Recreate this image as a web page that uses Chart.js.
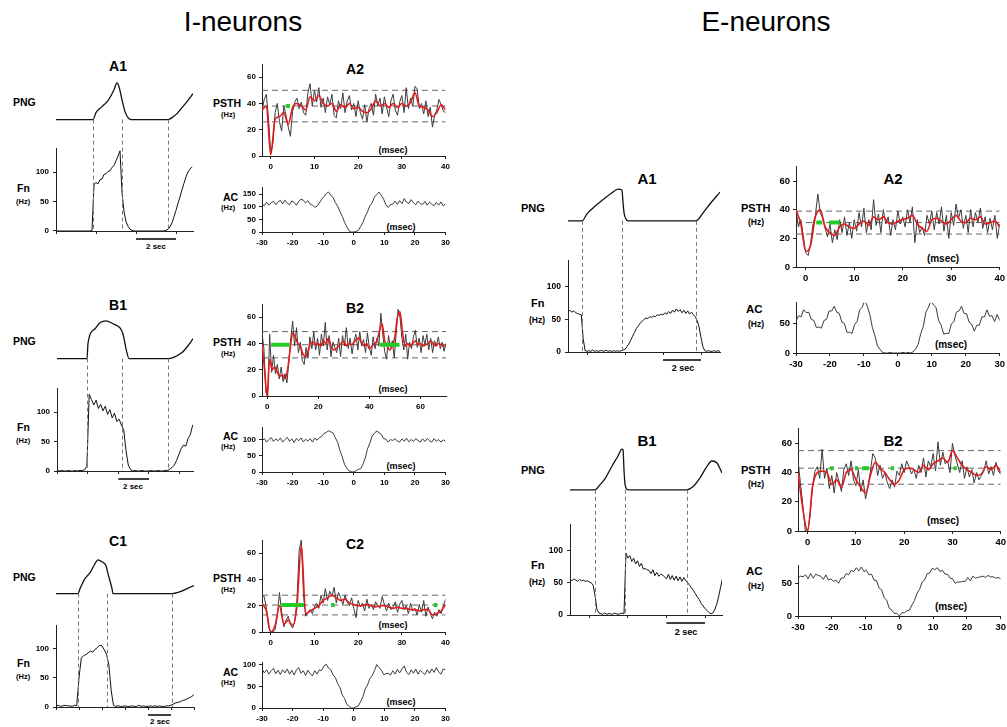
<!DOCTYPE html>
<html>
<head>
<meta charset="utf-8">
<title>I-neurons / E-neurons</title>
<script src="https://cdn.jsdelivr.net/npm/chart.js"></script>
<style>
html, body { margin: 0; padding: 0; background: #fff; overflow: hidden; }
#fig { position: relative; width: 1007px; height: 727px; font-family: "Liberation Sans", Arial, sans-serif; color: #000; }
#fig canvas { position: absolute; }
.t { position: absolute; white-space: nowrap; line-height: 1; }
</style>
</head>
<body>
<div id="fig"></div>
<script>
// ---------- tick values ----------
const fnTicks = [0, 50, 100];
const psthTicks = [0, 20, 40, 60];
const ms40Ticks = [0, 10, 20, 30, 40];
const ms70Ticks = [0, 20, 40, 60];
const acXTicks = [-30, -20, -10, 0, 10, 20, 30];

// ---------- I-neurons, A ----------
const iaPngT = [0, 1.85, 2.0, 2.3, 2.6, 2.9, 3.05, 3.15, 3.3, 3.45, 3.6, 3.75, 5.6, 5.8, 6.05, 6.3, 6.55, 6.85];
const iaPngV = [0, 0, 7, 13, 19, 30, 37, 33, 20, 8, 2, 0, 0, 2, 6, 12, 18, 26];
// Fn, every 0.1 s from 0
const iaFn = [0, 0, 0, 0, 0, 0, 0, 0, 0, 0,
  0, 0, 0, 0, 0, 0, 0, 0, 1, 79,
  82, 80, 87, 88, 96, 97, 101, 102, 108, 111,
  119, 127, 136, 65, 33, 16, 8, 3, 1, 0,
  0, 0, 0, 0, 0, 0, 0, 0, 0, 0,
  0, 0, 0, 0, 0, 1, 3, 7, 14, 24,
  35, 47, 58, 70, 81, 92, 100, 105, 109];
// PSTH raw, every 0.5 ms from -2
const iaRaw = [34, 43, 47, 28, 2, 10, 33, 40, 26, 19,
  38, 31, 22, 15, 34, 41, 44, 36, 41, 33,
  31, 48, 55, 38, 50, 41, 52, 37, 44, 33,
  45, 39, 47, 31, 29, 42, 36, 48, 33, 42,
  46, 35, 40, 30, 42, 33, 28, 39, 26, 36,
  40, 31, 47, 38, 44, 32, 45, 37, 30, 42,
  47, 35, 31, 41, 46, 33, 52, 36, 44, 38,
  53, 51, 36, 40, 32, 42, 30, 37, 22, 31,
  35, 43, 39, 34, 33];
// PSTH smoothed, every 1 ms from -2
const iaSmooth = [35, 38, 1, 28, 30, 33, 24, 37, 40, 38,
  35, 45, 42, 46, 40, 38, 40, 34, 39, 37,
  40, 36, 37, 34, 33, 36, 42, 38, 40, 37,
  40, 37, 40, 38, 41, 48, 38, 37, 35, 30,
  33, 39, 35];
// autocorrelogram, every 0.75 ms from -30
const iaAc = [110, 104, 118, 106, 115, 122, 108, 119, 125, 111,
  126, 114, 108, 123, 117, 106, 121, 130, 126, 115,
  124, 110, 106, 98, 102, 115, 130, 140, 152, 158,
  146, 136, 116, 102, 80, 62, 38, 20, 4, 0,
  0, 2, 6, 22, 38, 62, 80, 104, 116, 138,
  148, 158, 145, 130, 108, 97, 108, 110, 122, 109,
  124, 112, 132, 118, 113, 128, 116, 108, 122, 112,
  109, 121, 106, 118, 110, 104, 117, 106, 119, 103,
  112];
const iaLevels = [50, 38, 26];
const iaGreen = [[3.5, 4.4]];
const iaGreenLevel = 38;

// ---------- I-neurons, B ----------
const ibPngT = [0, 1.96, 2.02, 2.48, 2.8, 3.2, 3.65, 4.1, 4.3, 4.5, 4.7, 7.24, 7.57, 8.15, 8.55, 8.87];
const ibPngV = [0, 0, 15, 30, 36, 38, 35, 31, 25, 10, 0, 0, 1, 6, 13, 20];
// Fn, every 0.15 s from 0
const ibFn = [1, 0, 1, 0, 0, 1, 0, 0, 1, 0,
  1, 1, 2, 8, 130, 121, 112, 120, 106, 113,
  102, 110, 96, 104, 90, 98, 84, 88, 78, 70,
  35, 10, 2, 0, 1, 0, 0, 1, 0, 0,
  0, 1, 0, 0, 1, 0, 0, 1, 1, 3,
  6, 10, 18, 28, 38, 44, 42, 55, 62, 78];
// PSTH raw, every 0.75 ms from -2
const ibRaw = [48, 36, 3, 0, 47, 18, 31, 17, 24, 13,
  22, 11, 17, 10, 26, 44, 57, 38, 52, 33,
  41, 27, 24, 37, 29, 45, 36, 49, 35, 44,
  31, 47, 38, 56, 35, 46, 30, 41, 37, 33,
  44, 30, 46, 38, 52, 36, 44, 32, 42, 47,
  35, 49, 38, 43, 33, 48, 37, 31, 45, 36,
  44, 38, 63, 47, 34, 28, 46, 37, 42, 29,
  48, 66, 60, 44, 35, 47, 28, 41, 36, 45,
  50, 37, 44, 33, 46, 39, 47, 35, 44, 33,
  42, 38, 45, 36, 41, 34, 40];
// PSTH smoothed, every 1 ms from -2
const ibSmooth = [40, 20, 0, 28, 20, 22, 18, 15, 16, 13,
  20, 35, 48, 45, 40, 38, 32, 30, 34, 40,
  41, 39, 40, 38, 42, 40, 44, 38, 35, 36,
  38, 40, 42, 38, 40, 39, 41, 43, 44, 40,
  38, 40, 36, 38, 40, 42, 50, 55, 42, 38,
  35, 38, 45, 60, 64, 48, 38, 40, 38, 40,
  42, 39, 40, 38, 39, 40, 42, 40, 38, 40,
  39, 38, 38];
const ibAc = [96, 104, 93, 101, 107, 95, 103, 97, 106, 93,
  101, 108, 95, 103, 92, 104, 97, 106, 94, 102,
  96, 104, 93, 105, 99, 107, 110, 120, 123, 128,
  125, 121, 106, 92, 66, 47, 23, 11, 3, 1,
  0, 4, 9, 10, 24, 43, 72, 90, 112, 120,
  128, 122, 117, 104, 102, 93, 101, 98, 104, 96,
  93, 103, 96, 105, 94, 101, 95, 104, 98, 93,
  103, 95, 104, 97, 93, 104, 96, 101, 93, 100,
  96];
const ibLevels = [49, 39, 29];
const ibGreen = [[1.6, 8.8], [44.2, 51.8]];
const ibGreenLevel = 39;

// ---------- I-neurons, C ----------
const icPngT = [0, 1.91, 2.09, 2.52, 2.96, 3.39, 3.65, 4.0, 4.35, 4.52, 4.87, 4.96, 10.09, 12];
const icPngV = [0, 0, 5, 15, 21, 30, 34, 32, 28, 20, 5, 0, 0, 8];
// Fn, every 0.2 s from 0
const icFn = [2, 3, 1, 2, 3, 2, 2, 1, 3, 2,
  50, 84, 88, 90, 93, 96, 94, 99, 102, 106,
  105, 98, 90, 72, 28, 3, 1, 2, 1, 1,
  2, 1, 1, 2, 1, 1, 3, 1, 2, 1,
  1, 2, 1, 2, 1, 2, 1, 1, 2, 2,
  3, 5, 7, 8, 9, 11, 12, 14, 16, 18,
  21];
const icRaw = [28, 27, 18, 4, 0, 0, 2, 12, 30, 15,
  4, 9, 12, 6, 3, 8, 24, 62, 70, 28,
  12, 15, 17, 14, 19, 22, 18, 28, 22, 33,
  24, 31, 27, 34, 22, 30, 26, 21, 28, 23,
  20, 26, 18, 11, 24, 19, 22, 16, 25, 18,
  21, 17, 23, 20, 18, 27, 21, 16, 22, 17,
  19, 23, 15, 21, 24, 17, 20, 14, 22, 16,
  18, 13, 21, 15, 24, 12, 19, 14, 10, 15,
  12, 17, 14, 20, 25];
const icSmooth = [22, 16, 0, 5, 20, 6, 9, 5, 20, 66,
  14, 16, 18, 20, 24, 26, 28, 26, 24, 25,
  22, 21, 20, 20, 21, 20, 19, 20, 20, 19,
  18, 19, 18, 18, 17, 17, 16, 17, 17, 13,
  14, 16, 21];
const icAc = [90, 81, 88, 78, 86, 91, 79, 87, 77, 88,
  81, 90, 78, 87, 76, 88, 93, 80, 86, 75,
  87, 79, 74, 86, 78, 88, 86, 97, 101, 92,
  88, 76, 70, 56, 47, 30, 22, 8, 4, 0,
  0, 3, 5, 15, 26, 44, 53, 68, 74, 86,
  100, 93, 88, 77, 79, 80, 76, 86, 78, 89,
  81, 90, 97, 82, 77, 88, 80, 90, 78, 87,
  82, 77, 88, 80, 90, 82, 93, 83, 78, 90,
  88];
const icLevels = [28, 20.5, 13];
const icGreen = [[2.4, 7.6], [13.8, 14.6], [37.3, 38.1]];
const icGreenLevel = 20.5;

// ---------- E-neurons, A ----------
const eaPngT = [-1, -0.26, 0.0, 0.26, 0.95, 1.3, 1.63, 1.84, 1.89, 1.95, 2.05, 2.16, 5.74, 6.11, 6.47, 7.0];
const eaPngV = [0, 0, 7, 12, 23, 28, 32, 31, 20, 8, 2, 0, 0, 8, 17, 29];
// Fn, every 0.1 s from -1
const eaFn = [62, 64, 61, 63, 60, 59, 58, 57, 20, 2,
  1, 2, 1, 3, 1, 2, 1, 2, 2, 1,
  3, 1, 2, 1, 2, 1, 2, 1, 2, 3,
  4, 8, 12, 18, 24, 30, 36, 40, 44, 47,
  50, 52, 51, 54, 53, 55, 54, 57, 56, 58,
  57, 60, 58, 62, 59, 64, 61, 66, 62, 65,
  60, 64, 59, 63, 58, 61, 57, 54, 48, 38,
  22, 8, 2, 1, 2, 1, 1, 2, 1, 2,
  1];
const eaRaw = [40, 28, 33, 22, 10, 8, 16, 30, 36, 51,
  38, 34, 27, 21, 30, 17, 26, 19, 33, 24,
  35, 22, 31, 20, 33, 25, 38, 28, 41, 24,
  33, 26, 47, 29, 37, 24, 40, 30, 35, 22,
  33, 26, 39, 30, 35, 28, 40, 31, 42, 17,
  33, 24, 28, 22, 36, 30, 39, 26, 38, 30,
  42, 25, 36, 20, 38, 29, 44, 34, 40, 27,
  36, 24, 40, 28, 38, 31, 41, 27, 35, 24,
  34, 26, 36, 20, 30];
const eaSmooth = [40, 30, 11, 15, 35, 40, 28, 24, 22, 28,
  30, 28, 27, 30, 32, 29, 35, 33, 35, 31,
  30, 32, 33, 34, 36, 30, 27, 25, 33, 34,
  32, 30, 33, 36, 32, 31, 34, 33, 35, 30,
  31, 32, 28];
const eaAc = [54, 63, 61, 73, 68, 69, 57, 55, 43, 44,
  42, 55, 57, 71, 71, 79, 69, 67, 52, 50,
  35, 35, 33, 48, 53, 73, 77, 89, 79, 65,
  43, 29, 12, 6, 1, 0, 0, 1, 0, 0,
  0, 0, 1, 0, 1, 0, 2, 7, 15, 33,
  45, 69, 77, 89, 81, 77, 55, 47, 32, 33,
  33, 49, 53, 69, 71, 79, 67, 66, 52, 49,
  37, 47, 47, 61, 61, 73, 62, 63, 53, 65,
  55];
const eaLevels = [39, 31, 23];
const eaGreen = [[2.2, 3.4], [4.8, 7.0]];
const eaGreenLevel = 31;

// ---------- E-neurons, B ----------
const ebPngT = [-1, 0.3, 0.55, 0.81, 1.18, 1.49, 1.69, 1.75, 1.8, 1.85, 2.0, 5.06, 5.37, 5.74, 6.05, 6.36, 6.62, 6.88];
const ebPngV = [0, 0, 5, 11, 24, 34, 41, 40, 20, 6, 0, 0, 3, 12, 22, 29, 27, 17];
// Fn, every 0.1 s from -1
const ebFn = [55, 53, 56, 54, 52, 55, 53, 54, 52, 53,
  51, 50, 46, 30, 8, 3, 2, 1, 3, 1,
  2, 2, 1, 3, 2, 1, 2, 3, 2, 96,
  88, 92, 83, 88, 79, 84, 75, 80, 71, 72,
  70, 69, 64, 70, 61, 66, 60, 63, 62, 59,
  56, 63, 55, 61, 54, 60, 53, 59, 52, 58,
  53, 50, 46, 42, 38, 33, 28, 24, 18, 14,
  10, 7, 4, 2, 3, 8, 16, 28, 42, 56];
const ebRaw = [48, 33, 18, 0, 0, 10, 30, 41, 44, 36,
  56, 36, 43, 29, 38, 26, 40, 34, 27, 42,
  46, 38, 48, 35, 31, 42, 27, 35, 22, 30,
  41, 53, 50, 38, 45, 36, 40, 33, 29, 35,
  30, 41, 38, 46, 40, 48, 44, 39, 42, 36,
  45, 40, 50, 37, 48, 44, 53, 41, 61, 45,
  54, 46, 48, 40, 60, 52, 46, 40, 48, 36,
  44, 37, 42, 33, 40, 35, 38, 41, 48, 39,
  44, 38, 47, 41, 39];
const ebSmooth = [40, 15, 0, 30, 40, 41, 40, 32, 35, 30,
  40, 42, 35, 30, 26, 38, 47, 43, 40, 35,
  32, 35, 42, 43, 42, 40, 45, 42, 46, 48,
  50, 47, 55, 50, 45, 42, 40, 38, 39, 44,
  42, 45, 40];
const ebAc = [58, 61, 60, 63, 57, 65, 58, 64, 62, 61,
  56, 63, 55, 57, 53, 55, 50, 58, 58, 65,
  63, 70, 68, 74, 69, 75, 68, 70, 63, 64,
  55, 54, 43, 40, 28, 24, 12, 9, 4, 4,
  0, 5, 5, 8, 9, 17, 24, 35, 41, 52,
  55, 65, 66, 73, 71, 74, 68, 70, 64, 64,
  58, 57, 50, 52, 52, 53, 53, 59, 54, 61,
  58, 59, 60, 61, 59, 62, 60, 60, 58, 59,
  57];
const ebLevels = [55, 43, 32];
const ebGreen = [[4.6, 5.4], [9.8, 10.5], [11.3, 12.7], [17.2, 17.9], [30.2, 30.9]];
const ebGreenLevel = 43;

// ---------- helpers ----------
const fig = document.getElementById('fig');
Chart.defaults.font.family = "'Liberation Sans', Arial, sans-serif";
Chart.defaults.color = '#000';

function pts(start, step, vals) {
  return vals.map((v, i) => ({ x: start + i * step, y: v }));
}
function xy(xs, ys) {
  return xs.map((x, i) => ({ x: x, y: ys[i] }));
}
function setTicks(list) {
  return axis => { axis.ticks = list.map(v => ({ value: v })); };
}
function makeCanvas(left, top, w, h) {
  const c = document.createElement('canvas');
  c.width = w;
  c.height = h;
  c.style.left = left + 'px';
  c.style.top = top + 'px';
  c.style.width = w + 'px';
  c.style.height = h + 'px';
  fig.appendChild(c);
  return c;
}
function txt(s, x, y, size, bold, left) {
  const d = document.createElement('div');
  d.className = 't';
  d.textContent = s;
  d.style.fontSize = size + 'px';
  d.style.fontWeight = bold ? 'bold' : 'normal';
  d.style.left = x + 'px';
  d.style.top = y + 'px';
  d.style.transform = left ? 'translate(0,-50%)' : 'translate(-50%,-50%)';
  fig.appendChild(d);
}

function xAxis(min, max, ticks, h, labels, size) {
  return {
    type: 'linear', position: 'bottom', min: min, max: max,
    afterBuildTicks: setTicks(ticks),
    afterFit: a => { a.height = h; },
    ticks: { display: labels, font: { size: size, weight: 'bold' }, padding: 3, maxRotation: 0, autoSkip: false },
    grid: { drawOnChartArea: false, drawTicks: true, tickLength: 3, color: '#222' },
    border: { color: '#222' }
  };
}
function yAxis(min, max, ticks, w, size, pad) {
  return {
    type: 'linear', position: 'left', min: min, max: max,
    afterBuildTicks: setTicks(ticks),
    afterFit: a => { a.width = w; },
    ticks: { font: { size: size, weight: 'bold' }, padding: pad, autoSkip: false },
    grid: { drawOnChartArea: false, drawTicks: true, tickLength: 3, color: '#222' },
    border: { color: '#222' }
  };
}

// dashed phase lines from the PNG baseline down to the Fn axis, and the time bar
function cutPlugin(cuts, bar) {
  return {
    id: 'cuts',
    afterDatasetsDraw(chart) {
      const { ctx, scales } = chart;
      ctx.save();
      ctx.strokeStyle = '#777';
      ctx.lineWidth = 1;
      ctx.setLineDash([4, 3]);
      cuts.forEach(t => {
        const px = Math.round(scales.x.getPixelForValue(t)) + 0.5;
        ctx.beginPath();
        ctx.moveTo(px, scales.p.getPixelForValue(0));
        ctx.lineTo(px, scales.y.getPixelForValue(0));
        ctx.stroke();
      });
      ctx.setLineDash([]);
      ctx.strokeStyle = '#000';
      ctx.lineWidth = 1.5;
      const yb = chart.chartArea.bottom + 8;
      ctx.beginPath();
      ctx.moveTo(scales.x.getPixelForValue(bar[0]), yb);
      ctx.lineTo(scales.x.getPixelForValue(bar[1]), yb);
      ctx.stroke();
      ctx.restore();
    }
  };
}

// PNG trace over the firing-rate trace
function fnPanel(g, d) {
  const padL = 34, padT = 8, padR = 8, padB = 13;
  const cv = makeCanvas(g.left - padL, g.pngTop - padT,
    g.right - g.left + padL + padR, g.fnBottom - g.pngTop + padT + padB);
  const y = yAxis(0, 140, fnTicks, padL, g.font, 4);
  y.stack = 'trace';
  y.stackWeight = g.fnBottom - g.fnTop;
  new Chart(cv, {
    type: 'line',
    data: {
      datasets: [
        { data: xy(d.pngT, d.pngV), yAxisID: 'p', borderColor: '#111', borderWidth: 1.3, pointRadius: 0, cubicInterpolationMode: 'monotone' },
        { data: pts(d.fnStart, d.fnStep, d.fn), yAxisID: 'y', borderColor: '#111', borderWidth: 1, pointRadius: 0 }
      ]
    },
    options: {
      responsive: false, animation: false, events: [],
      layout: { padding: { top: padT, right: padR, bottom: 0, left: 0 } },
      plugins: { legend: { display: false }, tooltip: { enabled: false } },
      scales: {
        x: xAxis(d.xMin, d.xMax, d.xTicks, padB, false, 8),
        p: {
          type: 'linear', position: 'left', stack: 'trace', stackWeight: g.fnTop - g.pngTop, weight: 1,
          min: d.pMin, max: d.pMax,
          ticks: { display: false }, grid: { display: false }, border: { display: false },
          afterFit: a => { a.width = padL; }
        },
        y: y
      }
    },
    plugins: [cutPlugin(d.cuts, d.bar)]
  });
}

// PSTH or autocorrelogram
function histPanel(g, d) {
  const padL = 34, padT = 8, padR = 7, padB = 17;
  const cv = makeCanvas(g.left - padL, g.top - padT,
    g.right - g.left + padL + padR, g.bottom - g.top + padT + padB);
  const sets = [];
  if (d.green) {
    const gd = [];
    d.green.forEach(s => {
      gd.push({ x: s[0], y: d.greenLevel }, { x: s[1], y: d.greenLevel }, { x: s[1], y: null });
    });
    sets.push({ data: gd, borderColor: '#22cc22', borderWidth: 4, pointRadius: 0, borderCapStyle: 'butt' });
  }
  if (d.smooth) {
    sets.push({ data: pts(d.smoothStart, d.smoothStep, d.smooth), borderColor: '#e31a1c', borderWidth: 1.6, pointRadius: 0, cubicInterpolationMode: 'monotone' });
  }
  sets.push({ data: pts(d.rawStart, d.rawStep, d.raw), borderColor: '#3c3c3c', borderWidth: 1, pointRadius: 0 });
  (d.levels || []).forEach(v => {
    sets.push({ data: [{ x: d.xMin, y: v }, { x: d.xMax, y: v }], borderColor: '#666', borderWidth: 1, borderDash: [6, 4], pointRadius: 0 });
  });
  new Chart(cv, {
    type: 'line',
    data: { datasets: sets },
    options: {
      responsive: false, animation: false, events: [],
      layout: { padding: { top: padT, right: padR, bottom: 0, left: 0 } },
      plugins: { legend: { display: false }, tooltip: { enabled: false } },
      scales: {
        x: xAxis(d.xMin, d.xMax, d.xTicks, padB, true, g.font),
        y: yAxis(0, d.yMax, d.yTicks, padL, g.font, 3)
      }
    }
  });
}

// ---------- text ----------
txt('I-neurons', 243, 22, 28, false);
txt('E-neurons', 766, 22, 28, false);

[['A', 0], ['B', 239], ['C', 475]].forEach(([r, o]) => {
  txt(r + '1', 118, 66 + o, 14, true);
  txt(r + '2', 355, 69 + o, 14, true);
  txt('PNG', 13, 102 + o, 10.5, true, true);
  txt('Fn', 17, 188 + o, 10.5, true, true);
  txt('(Hz)', 16, 202 + o, 7.5, true, true);
  txt('PSTH', 213, 103 + o, 10.5, true, true);
  txt('(Hz)', 221, 115 + o, 7.5, true, true);
  txt('AC', 223, 197 + o, 10.5, true, true);
  txt('(Hz)', 221, 208 + o, 7.5, true, true);
  txt('(msec)', 393, 150 + o, 9, true);
  txt('(msec)', 401, 227 + o, 9, true);
});
txt('2 sec', 156, 247, 8, true);
txt('2 sec', 133, 487, 8, true);
txt('2 sec', 160, 722, 8, true);

[['A', 0], ['B', 262]].forEach(([r, o]) => {
  txt(r + '1', 647, 178 + o, 15, true);
  txt(r + '2', 893, 178 + o, 15, true);
  txt('PNG', 521, 208 + o, 11, true, true);
  txt('Fn', 531, 303 + o, 11, true, true);
  txt('(Hz)', 529, 320 + o, 8.5, true, true);
  txt('PSTH', 741, 208 + o, 11, true, true);
  txt('(Hz)', 748, 222 + o, 8.5, true, true);
  txt('AC', 746, 310 + o, 11.5, true, true);
  txt('(Hz)', 748, 324 + o, 8.5, true, true);
  txt('(msec)', 943, 259 + o, 10, true);
  txt('(msec)', 951, 345 + o, 10, true);
});
txt('2 sec', 683, 368, 9, true);
txt('2 sec', 686, 632, 9, true);

// ---------- charts ----------
fnPanel({ left: 56, right: 193, pngTop: 78, fnTop: 148, fnBottom: 231, font: 8 },
  { pngT: iaPngT, pngV: iaPngV, pMin: -29, pMax: 41, fn: iaFn, fnStart: 0, fnStep: 0.1,
    xMin: 0, xMax: 6.85, xTicks: [0, 2, 4, 6], cuts: [1.85, 3.3, 5.6], bar: [4, 6] });
fnPanel({ left: 57, right: 193, pngTop: 316, fnTop: 388, fnBottom: 471, font: 8 },
  { pngT: ibPngT, pngV: ibPngV, pMin: -30, pMax: 42, fn: ibFn, fnStart: 0, fnStep: 0.15,
    xMin: 0, xMax: 8.87, xTicks: [0, 2, 4, 6, 8], cuts: [1.96, 4.24, 7.24], bar: [4, 6] });
fnPanel({ left: 56, right: 194, pngTop: 555, fnTop: 625, fnBottom: 707, font: 8 },
  { pngT: icPngT, pngV: icPngV, pMin: -32, pMax: 38, fn: icFn, fnStart: 0, fnStep: 0.2,
    xMin: 0, xMax: 12, xTicks: [0, 2, 4, 6, 8, 10, 12], cuts: [1.91, 4.43, 10.09], bar: [8, 10] });
fnPanel({ left: 568, right: 720, pngTop: 183, fnTop: 260, fnBottom: 352, font: 8.5 },
  { pngT: eaPngT, pngV: eaPngV, pMin: -40, pMax: 37, fn: eaFn, fnStart: -1, fnStep: 0.1,
    xMin: -1, xMax: 7, xTicks: [0, 2, 4, 6], cuts: [-0.26, 1.84, 5.74], bar: [4, 6] });
fnPanel({ left: 570, right: 722, pngTop: 444, fnTop: 524, fnBottom: 615, font: 8.5 },
  { pngT: ebPngT, pngV: ebPngV, pMin: -35, pMax: 45, fn: ebFn, fnStart: -1, fnStep: 0.1,
    xMin: -1, xMax: 6.88, xTicks: [0, 2, 4, 6], cuts: [0.3, 1.85, 5.06], bar: [4, 6] });

const leftHist = [
  [64, 156, 187, 232, iaRaw, 0.5, iaSmooth, iaLevels, iaGreen, iaGreenLevel, 40, ms40Ticks, iaAc, 178, [0, 50, 100, 150]],
  [304, 396, 427, 472, ibRaw, 0.75, ibSmooth, ibLevels, ibGreen, ibGreenLevel, 70, ms70Ticks, ibAc, 140, [0, 50, 100]],
  [540, 632, 662, 708, icRaw, 0.5, icSmooth, icLevels, icGreen, icGreenLevel, 40, ms40Ticks, icAc, 106, [0, 50, 100]]
];
leftHist.forEach(r => {
  histPanel({ left: 262, right: 446, top: r[0], bottom: r[1], font: 8 },
    { raw: r[4], rawStart: -2, rawStep: r[5], smooth: r[6], smoothStart: -2, smoothStep: 1,
      levels: r[7], green: r[8], greenLevel: r[9], xMin: -2, xMax: r[10], xTicks: r[11], yMax: 70, yTicks: psthTicks });
  histPanel({ left: 262, right: 446, top: r[2], bottom: r[3], font: 8 },
    { raw: r[12], rawStart: -30, rawStep: 0.75, xMin: -30, xMax: 30, xTicks: acXTicks, yMax: r[13], yTicks: r[14] });
});

const rightHist = [
  [796, 1001, 166, 267, 302, 353, eaRaw, eaSmooth, eaLevels, eaGreen, eaGreenLevel, eaAc, 85],
  [798, 1002, 428, 531, 565, 616, ebRaw, ebSmooth, ebLevels, ebGreen, ebGreenLevel, ebAc, 77]
];
rightHist.forEach(r => {
  histPanel({ left: r[0], right: r[1], top: r[2], bottom: r[3], font: 9.5 },
    { raw: r[6], rawStart: -2, rawStep: 0.5, smooth: r[7], smoothStart: -2, smoothStep: 1,
      levels: r[8], green: r[9], greenLevel: r[10], xMin: -2, xMax: 40, xTicks: ms40Ticks, yMax: 70, yTicks: psthTicks });
  histPanel({ left: r[0], right: r[1], top: r[4], bottom: r[5], font: 9.5 },
    { raw: r[11], rawStart: -30, rawStep: 0.75, xMin: -30, xMax: 30, xTicks: acXTicks, yMax: r[12], yTicks: [0, 50] });
});
</script>
</body>
</html>
